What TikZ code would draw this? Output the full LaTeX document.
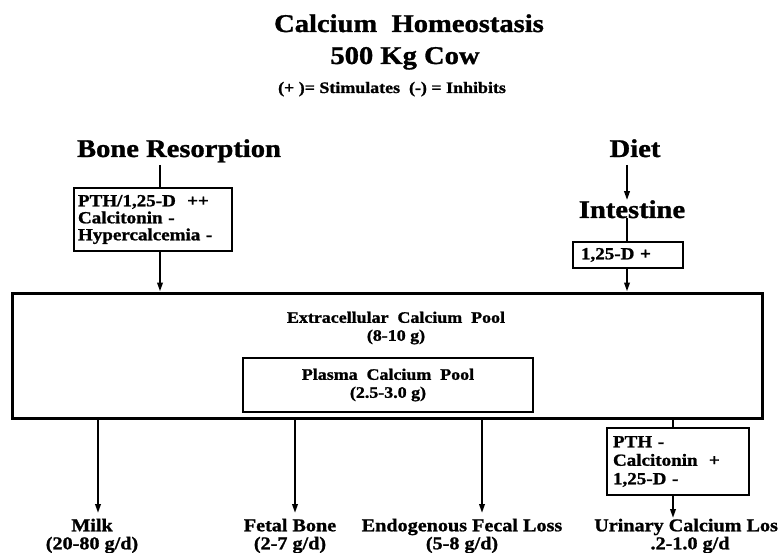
\documentclass[tikz,border=0pt]{standalone}
\usepackage{fontspec}
\setmainfont{Liberation Serif}[FakeStretch=1.12, BoldFeatures={FakeBold=1.2}]
\usetikzlibrary{arrows.meta,positioning}

\tikzset{
  bigtxt/.style={font=\fontsize{25.5}{28}\selectfont\bfseries, inner sep=0pt},
  midtxt/.style={font=\fontsize{16}{18}\selectfont\bfseries, inner sep=0pt, align=center},
  lowtxt/.style={font=\fontsize{18}{18}\selectfont\bfseries, inner sep=0pt, align=center},
  boxtxt/.style={draw, line width=2.2pt, font=\fontsize{17}{17}\selectfont\bfseries, align=left, inner ysep=0pt},
  arr/.style={line width=2pt, -{Triangle[length=9pt,width=5.5pt]}},
  lnk/.style={line width=2pt}
}

\begin{document}
\begin{tikzpicture}[x=1pt,y=-1pt]
\useasboundingbox (0,0) rectangle (778,553);

% Title
\node[bigtxt, anchor=base] (title) at (409,32) {Calcium\ \ Homeostasis};
\node[bigtxt, anchor=base] (cow) at (405,64) {500 Kg Cow};
\node[midtxt, anchor=base] (key) at (392,93) {(+ )= Stimulates\ \ (-) = Inhibits};

% Sources
\node[bigtxt, anchor=base] (bone) at (179,157) {Bone Resorption};
\node[bigtxt, anchor=base] (diet) at (635,157) {Diet};
\node[bigtxt, anchor=base] (gut) at (632,218) {Intestine};

% Control boxes
\node[boxtxt, minimum width=158, minimum height=63, text width=150, inner xsep=4pt] (lbox) at (153,219.5)
  {PTH/1,25-D\ \ ++\\Calcitonin -\\Hypercalcemia -};
\node[boxtxt, minimum width=110, minimum height=26, text width=94, inner xsep=8pt] (gbox) at (628,255) {1,25-D +};
\node[boxtxt, font=\fontsize{17}{18.5}\selectfont\bfseries, minimum width=142, minimum height=67, text width=130, inner xsep=6pt] (rbox) at (678,461.5)
  {PTH -\\Calcitonin\ \ +\\1,25-D -};

% Calcium pools
\node[draw, line width=3pt, minimum width=750, minimum height=125] (pool) at (387,355.5) {};
\node[midtxt] (ext) at (396,328) {Extracellular\ \ Calcium\ \ Pool\\(8-10 g)};
\node[draw, line width=2.2pt, minimum width=290, minimum height=54, midtxt] (plasma) at (388,385)
  {Plasma\ \ Calcium\ \ Pool\\(2.5-3.0 g)};

% Losses
\node[lowtxt] (milk) at (92,536) {Milk\\(20-80 g/d)};
\node[lowtxt] (fetal) at (290,536) {Fetal Bone\\(2-7 g/d)};
\node[lowtxt] (fecal) at (462,536) {Endogenous Fecal Loss\\(5-8 g/d)};
\node[lowtxt] (urine) at (690,536) {Urinary Calcium Loss\\.2-1.0 g/d};

% Inflow connectors
\coordinate (lx) at (160,165);
\coordinate (dx) at (627,165);
\draw[lnk] (lx) -- (lx |- lbox.north);
\draw[arr] (lx |- lbox.south) -- (lx |- pool.north);
\draw[arr] (dx) -- (dx |- gut.north);
\draw[lnk] (dx |- gut.south) -- (dx |- gbox.north);
\draw[arr] (dx |- gbox.south) -- (dx |- pool.north);

% Outflow connectors
\coordinate (mk) at (98,513);
\coordinate (fb) at (295,513);
\coordinate (fl) at (482,513);
\coordinate (ul) at (673,518);
\draw[arr] (pool.south -| mk) -- (mk);
\draw[arr] (pool.south -| fb) -- (fb);
\draw[arr] (pool.south -| fl) -- (fl);
\draw[lnk] (pool.south -| ul) -- (ul |- rbox.north);
\draw[arr] (ul |- rbox.south) -- (ul);

\end{tikzpicture}
\end{document}
